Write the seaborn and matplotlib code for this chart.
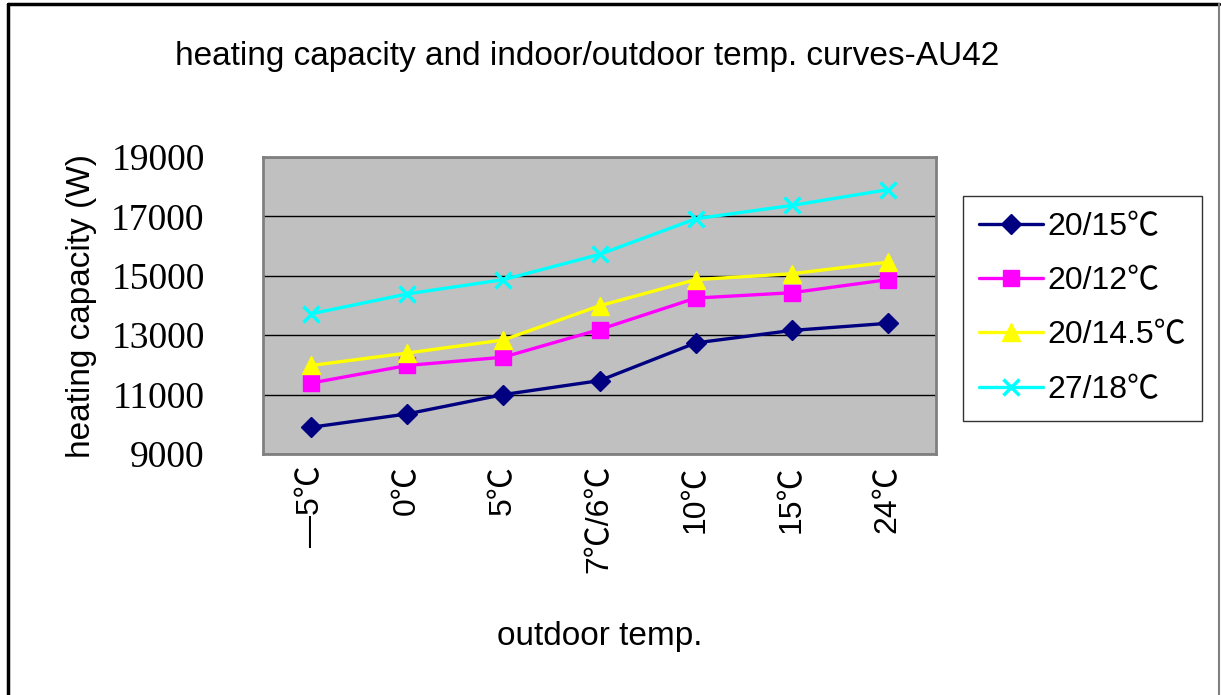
import matplotlib
matplotlib.use("Agg")
import matplotlib.pyplot as plt
from matplotlib.lines import Line2D
import pandas as pd
import seaborn as sns

# data
outdoor = ["—5℃", "0℃", "5℃", "7℃/6℃", "10℃", "15℃", "24℃"]
cap_20_15 = [9900, 10350, 11000, 11470, 12740, 13160, 13400]
cap_20_12 = [11390, 11980, 12260, 13190, 14250, 14430, 14870]
cap_20_145 = [11980, 12400, 12840, 13990, 14870, 15070, 15460]
cap_27_18 = [13720, 14390, 14870, 15720, 16920, 17370, 17900]
series_names = ["20/15℃", "20/12℃", "20/14.5℃", "27/18℃"]
yticks = [9000, 11000, 13000, 15000, 17000, 19000]

sns.set_style("white")
sans = ["Liberation Sans", "Noto Sans CJK SC", "DejaVu Sans"]
plt.rcParams["font.family"] = sans
plt.rcParams["text.color"] = "black"
plt.rcParams["axes.labelcolor"] = "black"
plt.rcParams["xtick.color"] = "black"
plt.rcParams["ytick.color"] = "black"

colors = ["#000080", "#FF00FF", "#FFFF00", "#00FFFF"]
markers = ["D", "s", "^", "x"]
msizes = [10, 11, 13, 12]

fig = plt.figure(figsize=(12.21, 6.95), dpi=100)
ax = fig.add_axes([263 / 1221, 1 - 454 / 695, (936 - 263) / 1221, (454 - 157) / 695])

for name, vals, c, m, ms in zip(series_names, [cap_20_15, cap_20_12, cap_20_145, cap_27_18],
                                colors, markers, msizes):
    d = pd.DataFrame({"outdoor": outdoor, "capacity": vals})
    sns.lineplot(data=d, x="outdoor", y="capacity", sort=False, errorbar=None,
                 color=c, marker=m, markersize=ms, markerfacecolor=c, markeredgecolor=c,
                 markeredgewidth=2.5 if m == "x" else 1, linewidth=2.4, label=name, ax=ax)

ax.get_legend().remove()

ax.set_facecolor("#C0C0C0")
ax.set_xlim(-0.5, len(outdoor) - 0.5)
ax.set_ylim(9000, 19000)
ax.set_yticks(yticks)
ax.set_yticklabels([str(v) for v in yticks], family="Liberation Serif", fontsize=27)
ax.tick_params(axis="y", length=5, width=1, color="#808080", labelcolor="black", pad=37)
ax.tick_params(axis="x", length=0, pad=8, labelsize=23, labelrotation=90, labelcolor="black")
ax.yaxis.grid(True, color="black", linewidth=1)
ax.xaxis.grid(False)
ax.set_axisbelow(True)
for sp in ax.spines.values():
    sp.set_color("#808080")
    sp.set_linewidth(2)

ax.set_xlabel("outdoor temp.", fontsize=24, labelpad=34)
ax.set_ylabel("heating capacity (W)", fontsize=24, labelpad=10)
fig.text(587 / 1221, 1 - 56 / 695, "heating capacity and indoor/outdoor temp. curves-AU42",
         ha="center", va="center", fontsize=24)

leg = fig.legend(ax.lines[:4], series_names, loc="upper left",
                 bbox_to_anchor=(963 / 1221, 1 - 196 / 695), fontsize=23,
                 frameon=True, fancybox=False, edgecolor="black", handlelength=2.0,
                 handletextpad=0.15, labelspacing=0.76, borderpad=0.5, borderaxespad=0)
leg.get_frame().set_linewidth(1)

# outer frame of the chart sheet
fig.add_artist(Line2D([8 / 1221, 8 / 1221], [0, 1 - 4 / 695], transform=fig.transFigure, color="black", lw=2.5))
fig.add_artist(Line2D([8 / 1221, 1219 / 1221], [1 - 4 / 695, 1 - 4 / 695], transform=fig.transFigure, color="black", lw=2.5))
fig.add_artist(Line2D([1219 / 1221, 1219 / 1221], [0, 1 - 4 / 695], transform=fig.transFigure, color="#808080", lw=1.5))

fig.savefig("out.png", dpi=100, facecolor="white")
